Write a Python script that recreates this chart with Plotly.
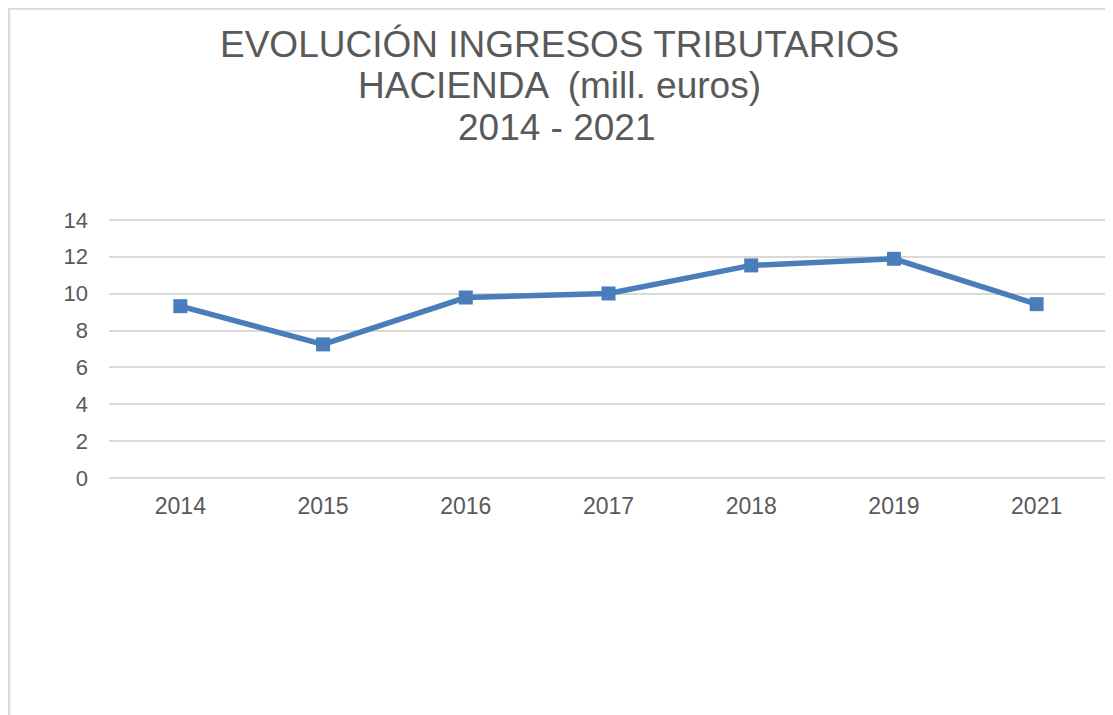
import plotly.graph_objects as go

years = ["2014", "2015", "2016", "2017", "2018", "2019", "2021"]
ingresos = [9.32, 7.25, 9.79, 10.01, 11.53, 11.89, 9.43]
y_ticks = [0, 2, 4, 6, 8, 10, 12, 14]
title_lines = ["EVOLUCIÓN INGRESOS TRIBUTARIOS", "HACIENDA  (mill. euros)", "2014 - 2021"]

OFF = 8  # page body margin
W, H = 1113 - OFF, 715 - OFF
YMIN, YMAX = -0.1, 14.1
Y0PX, Y14PX = 478, 220
L, R = 109, 1108
upp = (Y0PX - Y14PX) / 14.0
T = Y14PX - (YMAX - 14) * upp
B = Y0PX + (0 - YMIN) * upp

def px_x(p):
    return (p - L) / (R - L)

def px_y(p):
    return (B - p) / (B - T)

TXT = "#595959"
FONT = "Liberation Sans, Arial, sans-serif"

fig = go.Figure()
fig.add_trace(go.Scatter(
    x=years, y=ingresos, mode="lines+markers",
    line=dict(color="#4A7EBB", width=5.5),
    marker=dict(symbol="square", size=14, color="#4A7EBB"),
    showlegend=False, hoverinfo="x+y",
))

title_y = [45, 86, 128]
title_x = [559, 559.5, 557]
for txt, px, py in zip(title_lines, title_x, title_y):
    fig.add_annotation(text=txt, x=px_x(px), xref="paper", xanchor="center",
                       y=px_y(py), yref="paper", yanchor="middle",
                       showarrow=False, font=dict(family=FONT, size=37, color=TXT))

fig.add_shape(type="line", xref="paper", yref="paper",
              x0=px_x(8), x1=px_x(1130), y0=px_y(9), y1=px_y(9),
              line=dict(color="#d9d9d9", width=2.5), layer="above")
fig.add_shape(type="line", xref="paper", yref="paper",
              x0=px_x(9), x1=px_x(9), y0=px_y(8), y1=px_y(740),
              line=dict(color="#d9d9d9", width=2.5), layer="above")

fig.update_layout(
    width=W, height=H,
    margin=dict(l=L - OFF, r=(1113 - R), t=T - OFF, b=(715 - B), pad=0),
    paper_bgcolor="white", plot_bgcolor="white",
    font=dict(family=FONT, color=TXT, size=22),
    xaxis=dict(type="category", categoryorder="array", categoryarray=years,
               range=[-0.5, len(years) - 0.5], showgrid=False, zeroline=False,
               showline=False, ticks="", tickfont=dict(size=23, color=TXT),
               ticklabelstandoff=10, fixedrange=True),
    yaxis=dict(range=[YMIN, YMAX], tickvals=y_ticks, showgrid=True, gridcolor="#d9d9d9",
               gridwidth=1.5, zeroline=False, showline=False, ticks="",
               tickfont=dict(size=22, color=TXT), ticklabelstandoff=20, fixedrange=True),
)

fig.write_html("out.html")
